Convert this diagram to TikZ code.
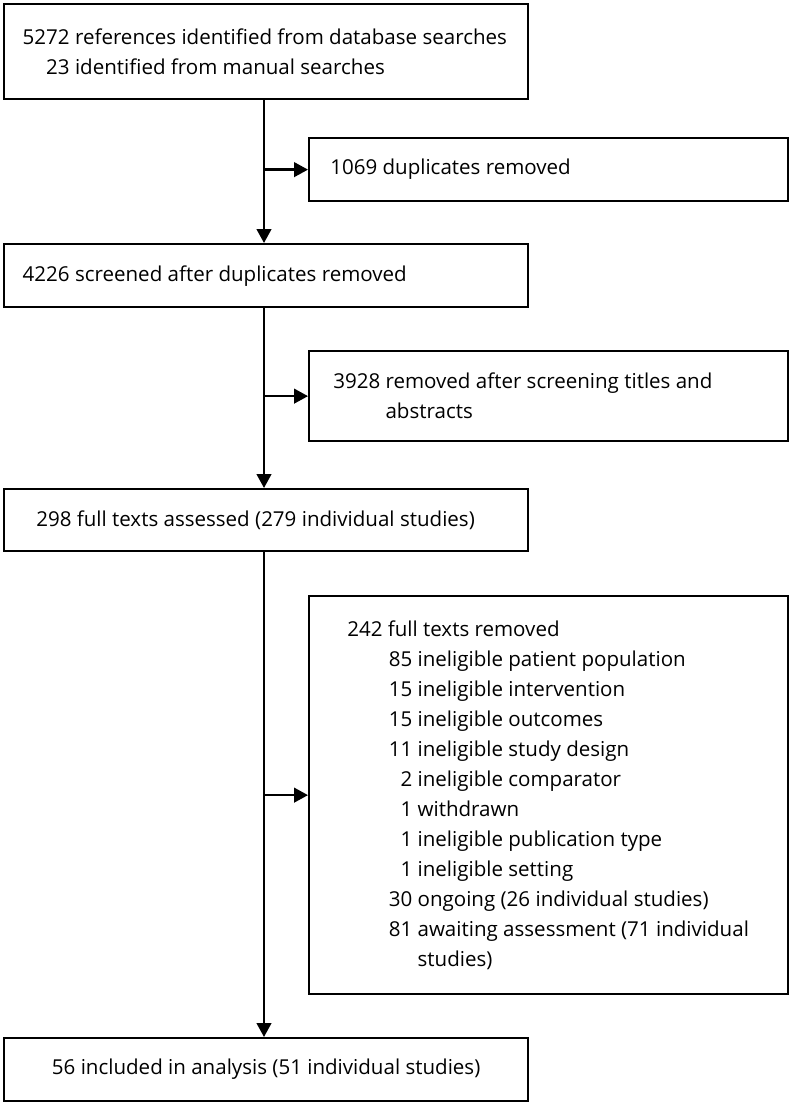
\documentclass[tikz,border=0pt]{standalone}
\usepackage{fontspec}
\setmainfont{Open Sans}
\usetikzlibrary{arrows.meta}
\newcommand\numcol[1]{\makebox[48.75pt][r]{#1}}
\begin{document}
\begin{tikzpicture}[x=0.75pt,y=-0.75pt,
  box/.style={draw, line width=1.7pt, anchor=north west, inner sep=0pt},
  txt/.style={anchor=west, inner sep=0pt, align=left, font=\fontsize{15.4}{22.5}\selectfont},
  arr/.style={line width=1.7pt, -{Triangle[length=10.5pt,width=11pt]}}]
\useasboundingbox (0,0) rectangle (790,1102);
% boxes
\node[box, minimum width=393pt, minimum height=71.25pt] (b1) at (3,3) {};
\node[box, minimum width=359.25pt, minimum height=47.25pt] (b2) at (308,137) {};
\node[box, minimum width=393pt, minimum height=47.25pt] (b3) at (3,243) {};
\node[box, minimum width=359.25pt, minimum height=67.5pt] (b4) at (308,350) {};
\node[box, minimum width=393pt, minimum height=46.5pt] (b5) at (3,488) {};
\node[box, minimum width=359.25pt, minimum height=298.5pt] (b6) at (308,595) {};
\node[box, minimum width=393pt, minimum height=47.25pt] (b7) at (3,1037) {};
% texts
\node[txt] (t1) at ([xshift=14.6pt]b1.west)
  {5272 references identified from database searches\\
   \hphantom{5272}\llap{23} identified from manual searches};
\node[txt] (t2) at ([xshift=16.5pt]b2.west) {1069 duplicates removed};
\node[txt] (t3) at ([xshift=14.6pt]b3.west) {4226 screened after duplicates removed};
\node[txt] (t4) at ([xshift=18.75pt]b4.west)
  {3928 removed after screening titles and\\
   \hphantom{3928} abstracts};
\node[txt] (t5) at ([xshift=24.75pt]b5.west) {298 full texts assessed (279 individual studies)};
\node[txt] (t6) at ([xshift=29.25pt]b6.west)
  {242 full texts removed\\
   \numcol{85} ineligible patient population\\
   \numcol{15} ineligible intervention\\
   \numcol{15} ineligible outcomes\\
   \numcol{11} ineligible study design\\
   \numcol{2} ineligible comparator\\
   \numcol{1} withdrawn\\
   \numcol{1} ineligible publication type\\
   \numcol{1} ineligible setting\\
   \numcol{30} ongoing (26 individual studies)\\
   \numcol{81} awaiting assessment (71 individual\\
   \numcol{} studies)};
\node[txt, anchor=center] (t7) at (b7.center) {56 included in analysis (51 individual studies)};
% connectors
\coordinate (sp) at (264,0);
\draw[arr] (b1.south -| sp) -- (b3.north -| sp);
\draw[arr] (b3.south -| sp) -- (b5.north -| sp);
\draw[arr] (b5.south -| sp) -- (b7.north -| sp);
\draw[arr] (b2.west -| sp) -- (b2.west);
\draw[arr] (b4.west -| sp) -- (b4.west);
\draw[arr] (b6.west -| sp) -- (b6.west);
\end{tikzpicture}
\end{document}
